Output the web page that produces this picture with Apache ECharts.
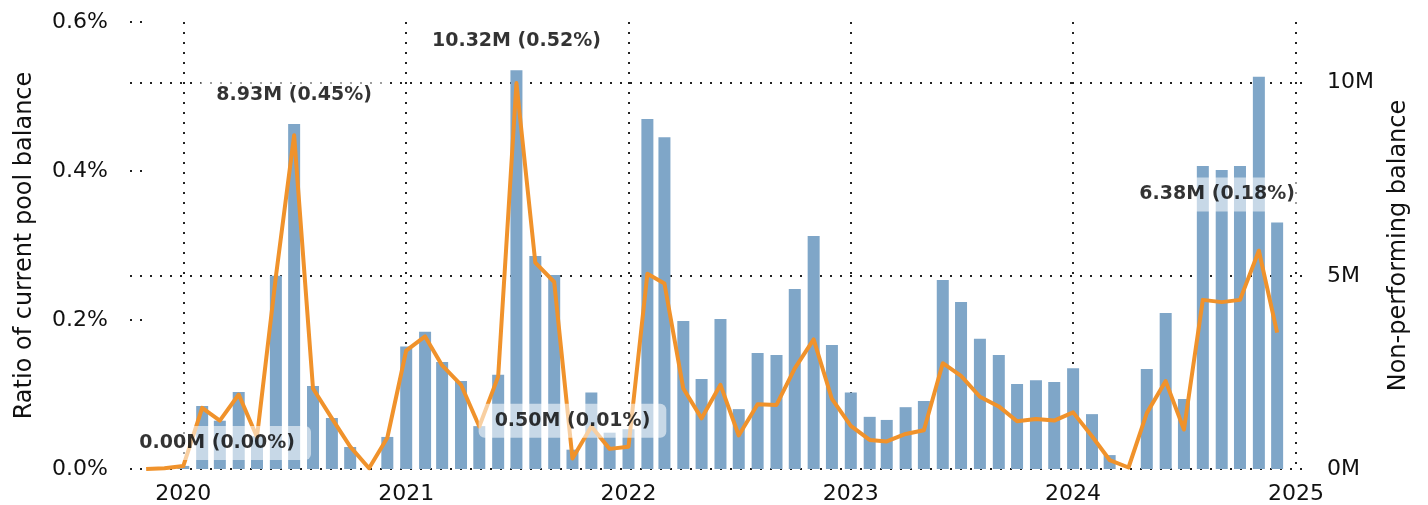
<!DOCTYPE html>
<html>
<head>
<meta charset="utf-8">
<script src="https://cdn.jsdelivr.net/npm/echarts@6/dist/echarts.min.js"></script>
<style>
  html, body { margin: 0; padding: 0; background: #fff; }
  #chart { width: 1428px; height: 505px; }
</style>
</head>
<body>
<div id="chart"></div>
<script>
// monthly report dates
const months = [
  '2019-11-01', '2019-12-01',
  '2020-01-01', '2020-02-01', '2020-03-01', '2020-04-01', '2020-05-01', '2020-06-01',
  '2020-07-01', '2020-08-01', '2020-09-01', '2020-10-01', '2020-11-01', '2020-12-01',
  '2021-01-01', '2021-02-01', '2021-03-01', '2021-04-01', '2021-05-01', '2021-06-01',
  '2021-07-01', '2021-08-01', '2021-09-01', '2021-10-01', '2021-11-01', '2021-12-01',
  '2022-01-01', '2022-02-01', '2022-03-01', '2022-04-01', '2022-05-01', '2022-06-01',
  '2022-07-01', '2022-08-01', '2022-09-01', '2022-10-01', '2022-11-01', '2022-12-01',
  '2023-01-01', '2023-02-01', '2023-03-01', '2023-04-01', '2023-05-01', '2023-06-01',
  '2023-07-01', '2023-08-01', '2023-09-01', '2023-10-01', '2023-11-01', '2023-12-01',
  '2024-01-01', '2024-02-01', '2024-03-01', '2024-04-01', '2024-05-01', '2024-06-01',
  '2024-07-01', '2024-08-01', '2024-09-01', '2024-10-01', '2024-11-01', '2024-12-01'
]

// non-performing balance, millions (right axis, bars)
const balance = [
  0, 0,
  0.08, 1.63, 1.25, 1.99, 0.85, 5.00, 8.93, 2.15, 1.32, 0.57, 0, 0.83,
  3.17, 3.55, 2.77, 2.28, 1.11, 2.44, 10.32, 5.51, 5.02, 0.50, 1.98, 0.94,
  1.03, 9.06, 8.59, 3.83, 2.33, 3.88, 1.55, 3.00, 2.95, 4.66, 6.03, 3.21,
  1.98, 1.35, 1.27, 1.60, 1.76, 4.89, 4.32, 3.37, 2.95, 2.20, 2.30, 2.25,
  2.61, 1.42, 0.36, 0, 2.59, 4.04, 1.81, 7.84, 7.74, 7.84, 10.15, 6.38
]

// ratio of current pool balance, percent (left axis, line)
const ratio = [
  0, 0.001,
  0.004, 0.082, 0.065, 0.100, 0.043, 0.258, 0.448, 0.108, 0.068, 0.030, 0.001, 0.042,
  0.159, 0.178, 0.139, 0.113, 0.057, 0.124, 0.518, 0.277, 0.251, 0.014, 0.057, 0.027,
  0.030, 0.262, 0.249, 0.108, 0.068, 0.113, 0.045, 0.087, 0.086, 0.135, 0.174, 0.094,
  0.058, 0.039, 0.037, 0.047, 0.052, 0.142, 0.125, 0.097, 0.084, 0.064, 0.067, 0.065,
  0.076, 0.044, 0.012, 0.002, 0.075, 0.118, 0.053, 0.227, 0.224, 0.227, 0.293, 0.183
]

// points that carry an annotation
const labelled = [0, 8, 20, 23, 61]

const ratioTicks = [0, 0.2, 0.4, 0.6]
const balanceTicks = [0, 5, 10]

// nudge for annotations that would run off the plot  [dx, dy]
const labelShift = {0: [71, 3], 61: [-60, 1]}

const FONT = 'DejaVu Sans'
const dotted = {type: [2, 8], color: '#222', width: 2}

const chart = echarts.init(document.getElementById('chart'))

// the bar series widens a time axis by half a bar on each side,
// so the limits are pulled in a little to keep the years where they belong
const option = {
  animation: false,
  backgroundColor: '#fff',
  textStyle: {fontFamily: FONT},
  grid: {left: 130, right: 123, top: 22, bottom: 36},
  xAxis: {
    type: 'time',
    min: new Date(2019, 9, 15, 8, 24).getTime(),
    max: new Date(2025, 0, 5, 21, 36).getTime(),
    minInterval: 365 * 24 * 3600 * 1000,
    maxInterval: 366 * 24 * 3600 * 1000,
    axisLine: {show: false},
    axisTick: {show: false},
    axisLabel: {
      fontFamily: FONT, fontSize: 22, color: '#111', margin: 14,
      formatter: v => String(new Date(v).getFullYear())
    },
    splitLine: {show: true, showMinLine: false, showMaxLine: false, lineStyle: dotted}
  },
  yAxis: [
    {
      type: 'value',
      position: 'left',
      min: ratioTicks[0],
      max: ratioTicks[ratioTicks.length - 1],
      interval: 0.2,
      name: 'Ratio of current pool balance',
      nameLocation: 'middle',
      nameGap: 93,
      nameTextStyle: {fontFamily: FONT, fontSize: 24, color: '#111'},
      axisLine: {show: false},
      axisTick: {show: true, inside: true, length: 12, lineStyle: dotted},
      axisLabel: {
        fontFamily: FONT, fontSize: 22, color: '#111', margin: 22,
        formatter: v => v.toFixed(1) + '%'
      },
      splitLine: {show: false}
    },
    {
      type: 'value',
      position: 'right',
      min: balanceTicks[0],
      max: 11.57,
      interval: 5,
      name: 'Non-performing balance',
      nameLocation: 'middle',
      nameGap: 82,
      nameTextStyle: {fontFamily: FONT, fontSize: 24, color: '#111'},
      axisLine: {show: false},
      axisTick: {show: false},
      axisLabel: {
        fontFamily: FONT, fontSize: 22, color: '#111', margin: 22,
        showMaxLabel: false,
        formatter: v => (balanceTicks.indexOf(v) >= 0 ? v + 'M' : '')
      },
      splitLine: {show: true, showMaxLine: false, lineStyle: dotted}
    }
  ],
  series: [
    {
      name: 'Non-performing balance',
      type: 'bar',
      yAxisIndex: 1,
      barWidth: 12,
      itemStyle: {color: '#7fa6c8'},
      data: months.map((m, i) => [m, balance[i]])
    },
    {
      name: 'Ratio',
      type: 'line',
      yAxisIndex: 0,
      showSymbol: false,
      symbol: 'none',
      lineStyle: {color: '#f0922b', width: 4, join: 'round'},
      data: months.map((m, i) => [m, ratio[i]])
    },
    {
      name: 'labels',
      type: 'scatter',
      yAxisIndex: 1,
      symbolSize: 0,
      silent: true,
      z: 10,
      data: labelled.map(i => ({
        value: [months[i], balance[i]],
        idx: i,
        label: {offset: labelShift[i] || [0, 0]}
      })),
      label: {
        show: true,
        position: 'top',
        distance: 12,
        fontFamily: FONT,
        fontWeight: 'bold',
        fontSize: 19,
        lineHeight: 20,
        color: '#000',
        backgroundColor: 'rgba(255,255,255,0.7)',
        borderRadius: 6,
        padding: [7, 16],
        formatter: p => {
          const i = p.data.idx
          return balance[i].toFixed(2) + 'M (' + ratio[i].toFixed(2) + '%)'
        }
      }
    }
  ]
}

option && chart.setOption(option)
</script>
</body>
</html>
